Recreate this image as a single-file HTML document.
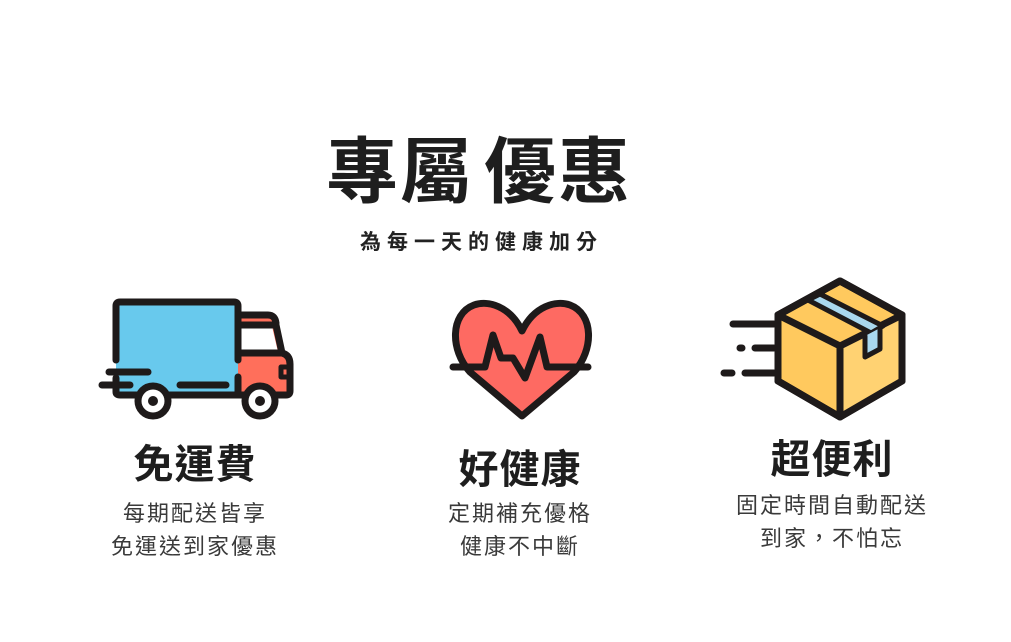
<!DOCTYPE html>
<html><head><meta charset="utf-8"><style>
html,body{margin:0;padding:0;background:#fff;}
body{width:1011px;height:642px;position:relative;overflow:hidden;font-family:"Liberation Sans","Noto Sans CJK TC",sans-serif;}
.t{position:absolute;left:0;white-space:nowrap;text-align:center;}
</style></head><body>
<div class="t" style="top:128px;left:326px;width:305px;font-size:72px;font-weight:700;color:#1e1e1e;line-height:90px;letter-spacing:2px;">專屬<span style="display:inline-block;width:10px"></span>優惠</div>
<div class="t" style="top:228px;left:354px;width:255px;font-size:21px;font-weight:700;color:#222;line-height:30px;letter-spacing:6px;">為每一天的健康加分</div>

<div class="t" style="top:440px;left:95px;width:200px;font-size:40px;font-weight:700;color:#1e1e1e;line-height:50px;letter-spacing:1px;">免運費</div>
<div class="t" style="top:497px;left:95px;width:200px;font-size:22px;color:#3a3a3a;line-height:33px;letter-spacing:2px;">每期配送皆享<br>免運送到家優惠</div>

<div class="t" style="top:445px;left:420px;width:200px;font-size:40px;font-weight:700;color:#1e1e1e;line-height:50px;letter-spacing:1px;">好健康</div>
<div class="t" style="top:497px;left:420px;width:200px;font-size:22px;color:#3a3a3a;line-height:33px;letter-spacing:2px;">定期補充優格<br>健康不中斷</div>

<div class="t" style="top:435px;left:732px;width:200px;font-size:40px;font-weight:700;color:#1e1e1e;line-height:50px;letter-spacing:1px;">超便利</div>
<div class="t" style="top:489px;left:732px;width:200px;font-size:22px;color:#3a3a3a;line-height:33px;letter-spacing:2px;">固定時間自動配送<br>到家，不怕忘</div>

<svg width="1011" height="642" style="position:absolute;left:0;top:0" fill="none" stroke="#1e1a1a" stroke-width="7" stroke-linecap="round" stroke-linejoin="round">
<path d="M238 315 H268 Q274 315 275 322 L281 352 Q290 354 290 364 V395 H238 Z" fill="#ff6f5b" stroke="none"/>
<path d="M238 322 H271 L278 352 H238 Z" fill="#fff" stroke="none"/>
<rect x="116" y="302" width="122" height="93" rx="4" fill="#68c9ed" stroke="none"/>
<path d="M116 360 V306 Q116 302 120 302 H234 Q238 302 238 306 V360"/>
<path d="M238 377 V395"/>
<path d="M116 378 V392 Q116 395 120 395 H286 Q290 395 290 391 V364 Q290 355 282 353 L276 325 H238"/>
<path d="M238 315 H268 Q275 315 276 323"/>
<path d="M238 353 H281"/>
<path d="M281 367 H289 V377 H281 Z" stroke-width="5"/>
<path d="M109 372 H148 M102 385 H130 M180 385 H226"/>
<circle cx="153" cy="401" r="15" fill="#fff"/><circle cx="153" cy="401" r="5" fill="#1e1a1a" stroke="none"/>
<circle cx="260" cy="401" r="15" fill="#fff"/><circle cx="260" cy="401" r="5" fill="#1e1a1a" stroke="none"/>
<path d="M522 331 C510 306 488 300 474 305 C450 314 450 350 470 372 L522 416 L574 372 C594 350 594 314 570 305 C556 300 534 306 522 331 Z" fill="#fe6a62"/>
<path d="M453 367 H485 L493 335 L501 358 H513 L525 378 L540 337 L547 367 H588"/>
<path d="M840 281 L902 315 V381 L840 417 L778 381 V315 Z" fill="#ffc95e"/>
<path d="M840 346 L902 315 V381 L840 417 Z" fill="#ffd272" stroke="none"/>
<path d="M840 281 L902 315 V381 L840 417 L778 381 V315 Z"/>
<path d="M778 315 L840 346 L902 315 M840 346 V417"/>
<path d="M808 300 L871 333 L883 326 L820 294 Z" fill="#a9d8ef" stroke-width="5"/>
<path d="M865 336 V357 L880 349 V328" fill="#a9d8ef" stroke-width="5"/>
<path d="M733 324 H774 M740 348 H742 M755 348 H774 M724 373 H732 M745 373 H774"/>
</svg>
</body></html>
